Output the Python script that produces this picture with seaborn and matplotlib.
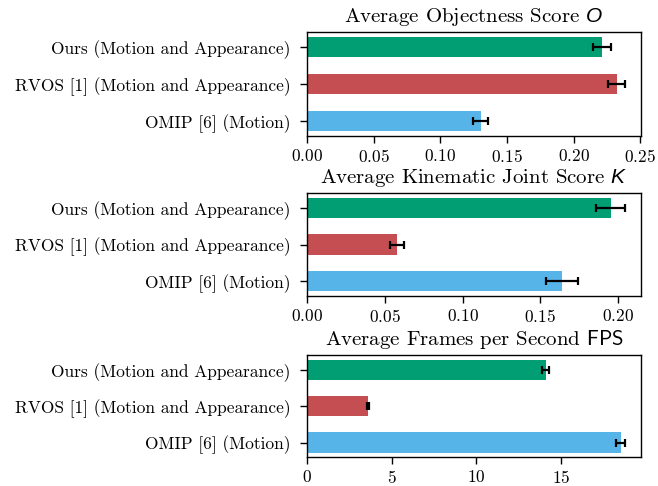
import matplotlib
matplotlib.use("Agg")
import matplotlib.pyplot as plt
import seaborn as sns
import pandas as pd

methods = ["Ours (Motion and Appearance)",
           "RVOS [1] (Motion and Appearance)",
           "OMIP [6] (Motion)"]
colors = ["#029e73", "#c44e52", "#56b4e9"]

objectness = [0.2215, 0.2322, 0.1302]
objectness_err = [0.0068, 0.0062, 0.0055]

kinematic = [0.1951, 0.0580, 0.1640]
kinematic_err = [0.0092, 0.0045, 0.0102]

fps = [14.11, 3.60, 18.54]
fps_err = [0.21, 0.06, 0.25]

titles = [r"Average Objectness Score $O$",
          r"Average Kinematic Joint Score $K$",
          r"Average Frames per Second $\mathsf{FPS}$"]

sns.set_style("ticks")
plt.rcParams.update({
    "font.family": "serif",
    "font.serif": ["cmr10"],
    "mathtext.fontset": "custom",
    "mathtext.rm": "cmr10",
    "mathtext.it": "Liberation Sans:italic",
    "mathtext.sf": "cmss10",
    "axes.formatter.use_mathtext": True,
    "axes.edgecolor": "black",
    "axes.linewidth": 1.0,
    "xtick.color": "black",
    "ytick.color": "black",
    "text.color": "black",
    "axes.labelcolor": "black",
    "font.size": 12.5,
})

fig = plt.figure(figsize=(6.58, 4.86), dpi=100)
left, width = 0.467, 0.5067
boxes = [(left, 0.7202, width, 0.2140),
         (left, 0.3909, width, 0.2113),
         (left, 0.0590, width, 0.2105)]

panels = [(objectness, objectness_err), (kinematic, kinematic_err), (fps, fps_err)]

for box, (vals, errs), title in zip(boxes, panels, titles):
    ax = fig.add_axes(box)
    df = pd.DataFrame({"method": methods, "value": vals})
    sns.barplot(data=df, x="value", y="method", hue="method",
                palette=colors, width=0.56, legend=False, ax=ax,
                saturation=1, edgecolor="none")
    ax.errorbar(vals, range(len(methods)), xerr=errs, fmt="none",
                ecolor="black", elinewidth=1.6, capsize=2.7, capthick=1.6)
    ax.set_xlabel("")
    ax.set_ylabel("")
    ax.set_title(title, fontsize=15, pad=7.5)
    ax.tick_params(axis="both", labelsize=12.5, length=5, width=1.0)
    ax.tick_params(axis="y", pad=7)
    ax.tick_params(axis="x", pad=3.5)
    ax.autoscale(axis="x")
    ax.margins(x=0.05)
    ax.set_xlim(left=0)

fig.savefig("out.png", dpi=100)
